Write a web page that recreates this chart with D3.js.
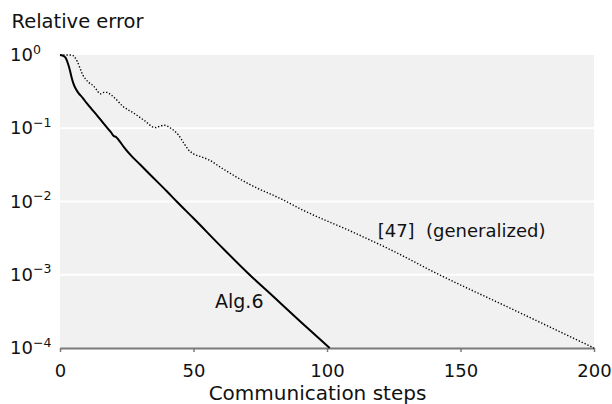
<!DOCTYPE html>
<html><head><meta charset="utf-8">
<script src="https://cdn.jsdelivr.net/npm/d3@7"></script>
<style>
body{margin:0;background:#fff}
svg{display:block;font-family:"DejaVu Sans",sans-serif}
</style>
</head><body>
<svg id="c" width="612" height="404"></svg>
<script>
// Alg.6 (solid)
const algSteps = [0, 1, 2, 3, 3.7, 4.3, 5, 6, 7, 8.5, 10, 12, 14, 16, 18, 19, 20, 21, 22, 24, 27, 30, 33.7, 40, 43.7, 50, 60, 71, 80, 90, 101];
const algError = [1, 0.98, 0.93, 0.76, 0.62, 0.50, 0.41, 0.34, 0.30, 0.26, 0.22, 0.18, 0.148, 0.120, 0.098, 0.089, 0.079, 0.076, 0.069, 0.055, 0.041, 0.032, 0.0234, 0.0138, 0.0100, 0.0059, 0.0025, 0.0010, 0.00050, 0.00023, 0.000100];
// [47] (generalized) (dotted)
const refSteps = [0, 4.4, 5.5, 6.5, 7.5, 8.5, 9.4, 10.6, 12.5, 14, 15, 16.5, 17.5, 19, 20.6, 23.5, 27.5, 31.8, 35.6, 37.5, 39, 41.5, 44.3, 46.5, 48, 50, 53, 56.2, 60, 71.2, 83.6, 90, 108.6, 125, 139.8, 170, 200];
const refError = [1, 1, 0.933, 0.813, 0.661, 0.537, 0.479, 0.427, 0.380, 0.324, 0.295, 0.309, 0.309, 0.288, 0.257, 0.200, 0.162, 0.126, 0.102, 0.107, 0.110, 0.100, 0.0813, 0.0617, 0.0513, 0.0447, 0.0407, 0.0363, 0.0295, 0.0170, 0.0105, 0.00794, 0.00398, 0.00209, 0.00110, 0.000331, 0.0001];

const xTicks = [0, 50, 100, 150, 200];
const yTickValues = [1, 0.1, 0.01, 0.001, 0.0001];
const yTickExponents = ["0", "\u22121", "\u22122", "\u22123", "\u22124"];
const yTitle = "Relative error";
const xTitle = "Communication steps";
const algLabel = "Alg.6";
const refLabel = "[47]  (generalized)";

const svg = d3.select("#c");
const L = 60, R = 594, T = 55, B = 348;
const x = d3.scaleLinear().domain([0, 200]).range([L, R]);
const y = d3.scaleLog().domain([1e-4, 1]).range([B, T]);

svg.append("rect").attr("x", L).attr("y", T).attr("width", R - L).attr("height", B - T).attr("fill", "#f1f1f1");

svg.append("g").selectAll("line").data(yTickValues.slice(1, 4)).join("line")
  .attr("x1", L).attr("x2", R).attr("y1", d => y(d)).attr("y2", d => y(d))
  .attr("stroke", "#fff").attr("stroke-width", 2);

// bottom axis
const xAxis = svg.append("g").attr("transform", `translate(0,${B})`)
  .call(d3.axisBottom(x).tickValues(xTicks).tickSize(4).tickPadding(12).tickSizeOuter(0));
xAxis.select(".domain").attr("stroke", "#7a7a7a").attr("stroke-width", 2);
xAxis.selectAll(".tick line").attr("stroke", "#7a7a7a").attr("stroke-width", 1.5);
xAxis.selectAll(".tick text").attr("font-size", 18).attr("fill", "#111").attr("font-family", '"DejaVu Sans",sans-serif');

// y tick labels
const yl = svg.append("g").selectAll("text").data(yTickValues).join("text")
  .attr("x", 10).attr("y", d => y(d) + 6).attr("font-size", 18).attr("fill", "#111");
yl.append("tspan").text("10");
yl.append("tspan").attr("font-size", 12.5).attr("dy", -7.5).text((d, i) => yTickExponents[i]);

// lines
const line = d3.line().x(d => x(d[0])).y(d => y(d[1])).curve(d3.curveMonotoneX);
svg.append("path").datum(refSteps.map((s, i) => [s, refError[i]]))
  .attr("d", line).attr("fill", "none").attr("stroke", "#000")
  .attr("stroke-width", 1.4).attr("stroke-dasharray", "1.3,1.9");
svg.append("path").datum(algSteps.map((s, i) => [s, algError[i]]))
  .attr("d", line).attr("fill", "none").attr("stroke", "#000")
  .attr("stroke-width", 2).attr("stroke-linejoin", "round");

// texts
svg.append("text").attr("x", 11.5).attr("y", 28.3).attr("font-size", 19.5).attr("fill", "#111").text(yTitle);
svg.append("text").attr("x", 317.5).attr("y", 400).attr("text-anchor", "middle").attr("font-size", 20).attr("fill", "#111").text(xTitle);
svg.append("text").attr("x", 215).attr("y", 308).attr("font-size", 19).attr("fill", "#111").text(algLabel);
svg.append("text").attr("x", 377.7).attr("y", 237).attr("font-size", 18).attr("fill", "#111")
  .style("white-space", "pre").text(refLabel);
</script>
</body></html>
